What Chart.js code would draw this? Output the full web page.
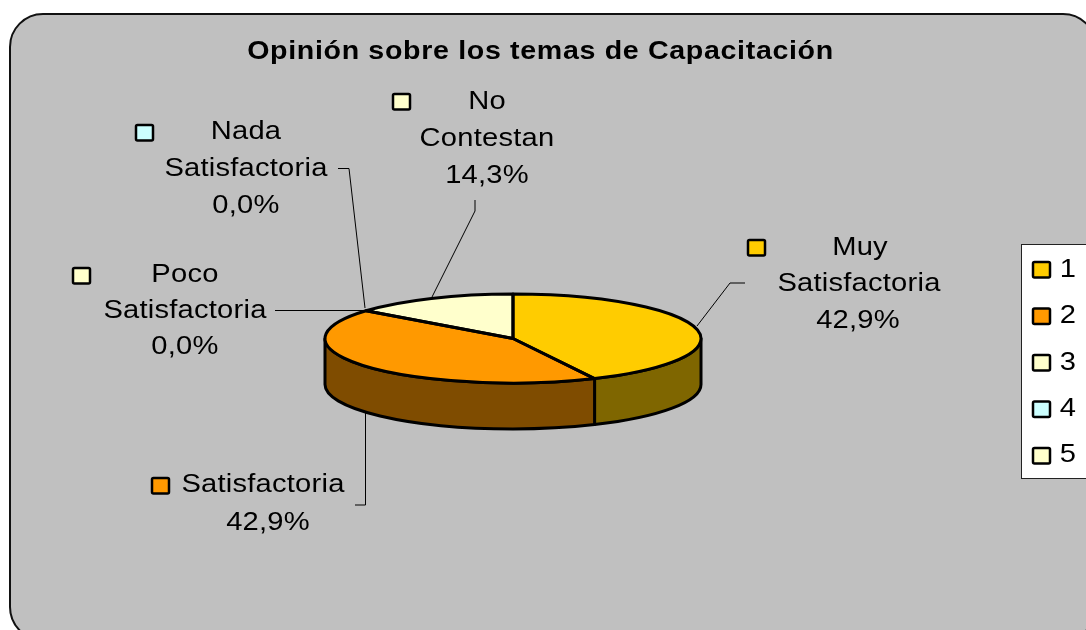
<!DOCTYPE html>
<html>
<head>
<meta charset="utf-8">
<title>Opinión sobre los temas de Capacitación</title>
<script src="https://cdn.jsdelivr.net/npm/chart.js@4/dist/chart.umd.min.js"></script>
<style>
  html, body { margin: 0; padding: 0; background: #fff; overflow: hidden; }
  canvas { display: block; }
</style>
</head>
<body>
<canvas id="chartCanvas" width="1086" height="630"></canvas>
<script>
// --- Data ---
const titleText = 'Opinión sobre los temas de Capacitación';
const legendLabels = ['1', '2', '3', '4', '5'];
const sliceNames = [['Muy', 'Satisfactoria'], ['Satisfactoria'], ['Poco', 'Satisfactoria'], ['Nada', 'Satisfactoria'], ['No', 'Contestan']];
const percents = [42.9, 42.9, 0.0, 0.0, 14.3];
const sliceColors = ['#FFCC00', '#FF9900', '#FFFFCC', '#CCFFFF', '#FFFFCC'];
const sideColors = ['#7F6600', '#7F4C00', '#7F7F66', '#667F7F', '#7F7F66'];

// --- Layout of the flattened pie ---
const squash = 44.5 / 188;
const depth = 46;
const font = '26px "Liberation Sans", Arial, sans-serif';
const titleFont = 'bold 26px "Liberation Sans", Arial, sans-serif';

// Where each data label sits: swatch box, text centre and baselines, leader line
const labelSpots = [
  { box: [747, 239], x: [860, 859, 858], y: [255, 291, 328], line: [[745, 283], [730, 283], [697, 326]] },
  { box: [151, 477], x: [263, 268], y: [492, 530], line: [[355, 505], [365.5, 505], [365.5, 413]] },
  { box: [72, 267], x: [185, 185, 185], y: [282, 318, 354], line: [[275, 310.5], [365, 310.5]] },
  { box: [135, 124], x: [246, 246, 246], y: [139, 176, 213], line: [[338, 168.5], [349, 168.5], [365, 308]] },
  { box: [392, 93], x: [487, 487, 487], y: [109, 146, 183], line: [[475, 200], [475, 211], [432, 297]] }
];

function swatch(ctx, x, y, color) {
  ctx.beginPath();
  ctx.roundRect(x + 1, y + 1, 17, 15.5, 1.5);
  ctx.fillStyle = color;
  ctx.fill();
  ctx.lineWidth = 2.5;
  ctx.strokeStyle = '#000';
  ctx.stroke();
}

// The picture's text is a bit wider than the font, so stretch it sideways
function wideText(ctx, text, x, y, stretch) {
  ctx.save();
  ctx.translate(x, y);
  ctx.scale(stretch, 1);
  ctx.fillText(text, 0, 0);
  ctx.restore();
}

// Grey rounded frame, it runs past the right and bottom of the picture
const framePlugin = {
  id: 'frame',
  beforeDraw(chart) {
    const ctx = chart.ctx;
    ctx.save();
    ctx.fillStyle = '#fff';
    ctx.fillRect(0, 0, chart.width, chart.height);
    ctx.beginPath();
    ctx.roundRect(10, 14, 1086, 626, 33);
    ctx.fillStyle = '#C0C0C0';
    ctx.fill();
    ctx.lineWidth = 2;
    ctx.strokeStyle = '#111';
    ctx.stroke();
    ctx.restore();
  }
};

// Side walls go under the arcs, the arcs get squashed, outlines go on top
const pie3dPlugin = {
  id: 'pie3d',
  beforeDatasetsDraw(chart) {
    const ctx = chart.ctx;
    const arcs = chart.getDatasetMeta(0).data;
    const { x, y, outerRadius } = arcs[0];
    const ry = outerRadius * squash;
    ctx.save();
    ctx.lineWidth = 3;
    ctx.lineJoin = 'round';
    ctx.strokeStyle = '#000';
    arcs.forEach((arc, i) => {
      const start = Math.max(arc.startAngle, 0);
      const end = Math.min(arc.endAngle, Math.PI);
      if (end <= start) return;
      ctx.beginPath();
      ctx.ellipse(x, y, outerRadius, ry, 0, start, end);
      ctx.ellipse(x, y + depth, outerRadius, ry, 0, end, start, true);
      ctx.closePath();
      ctx.fillStyle = sideColors[i];
      ctx.fill();
      ctx.stroke();
    });
    ctx.restore();

    ctx.save();
    ctx.translate(x, y);
    ctx.scale(1, squash);
    ctx.translate(-x, -y);
  },
  afterDatasetsDraw(chart) {
    const ctx = chart.ctx;
    ctx.restore();
    const arcs = chart.getDatasetMeta(0).data;
    ctx.save();
    ctx.lineWidth = 3;
    ctx.lineJoin = 'round';
    ctx.strokeStyle = '#000';
    arcs.forEach(arc => {
      if (arc.endAngle <= arc.startAngle) return;
      ctx.beginPath();
      ctx.moveTo(arc.x, arc.y);
      ctx.ellipse(arc.x, arc.y, arc.outerRadius, arc.outerRadius * squash, 0, arc.startAngle, arc.endAngle);
      ctx.closePath();
      ctx.stroke();
    });
    ctx.restore();
  }
};

// Title, data labels with their little swatches and leader lines, then the legend box
const labelsPlugin = {
  id: 'sliceLabels',
  afterDraw(chart) {
    const ctx = chart.ctx;
    ctx.save();
    ctx.textAlign = 'center';
    ctx.textBaseline = 'alphabetic';

    ctx.font = titleFont;
    ctx.letterSpacing = '0.6px';
    ctx.fillStyle = '#000';
    wideText(ctx, titleText, 540.5, 59, 1.1);

    ctx.font = font;
    ctx.letterSpacing = '0.2px';
    labelSpots.forEach((spot, i) => {
      swatch(ctx, spot.box[0], spot.box[1], sliceColors[i]);
      const rows = [...sliceNames[i], percents[i].toFixed(1).replace('.', ',') + '%'];
      ctx.fillStyle = '#000';
      rows.forEach((row, r) => wideText(ctx, row, spot.x[r], spot.y[r], 1.12));

      ctx.beginPath();
      spot.line.forEach((p, n) => (n ? ctx.lineTo(p[0], p[1]) : ctx.moveTo(p[0], p[1])));
      ctx.lineWidth = 1;
      ctx.strokeStyle = '#000';
      ctx.stroke();
    });

    // Legend
    ctx.fillStyle = '#fff';
    ctx.fillRect(1022, 244, 70, 235);
    ctx.lineWidth = 1;
    ctx.strokeStyle = '#222';
    ctx.strokeRect(1021.5, 244.5, 70, 234);
    legendLabels.forEach((label, i) => {
      swatch(ctx, 1032, 261 + i * 46.5, sliceColors[i]);
      ctx.fillStyle = '#000';
      wideText(ctx, label, 1068, 277 + i * 46.25, 1.12);
    });
    ctx.restore();
  }
};

new Chart(document.getElementById('chartCanvas'), {
  type: 'pie',
  data: {
    labels: legendLabels,
    datasets: [{
      data: percents,
      backgroundColor: sliceColors,
      borderWidth: 0,
      hoverOffset: 0
    }]
  },
  plugins: [framePlugin, pie3dPlugin, labelsPlugin],
  options: {
    responsive: false,
    animation: false,
    layout: { padding: { left: 325, right: 385, top: 150.5, bottom: 103.5 } },
    plugins: {
      legend: { display: false },
      tooltip: { enabled: false }
    }
  }
});
</script>
</body>
</html>
